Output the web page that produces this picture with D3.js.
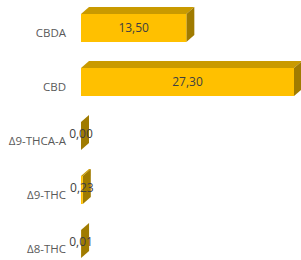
<!DOCTYPE html>
<html>
<head>
<meta charset="utf-8">
<script src="https://cdn.jsdelivr.net/npm/d3@7"></script>
<style>
  body { margin: 0; background: #fff; }
  text { font-family: "Open Sans", sans-serif; }
</style>
</head>
<body>
<svg id="chart"></svg>
<script>
// categories top to bottom
const categories = ['CBDA', 'CBD', 'Δ9-THCA-A', 'Δ9-THC', 'Δ8-THC'];
const values = [13.50, 27.30, 0.00, 0.23, 0.01];
const valueLabels = ['13,50', '27,30', '0,00', '0,23', '0,01'];

const W = 301, H = 260;
const svg = d3.select('#chart').attr('width', W).attr('height', H);

const y = d3.scaleBand().domain(categories).range([6, 276]).padding(0);
const x = d3.scaleLinear().domain([0, 27.3]).range([81, 294]);

const depthX = 8, depthY = -7;   // 3d offset
const barH = 28;

const g = svg.append('g');

categories.forEach((c, i) => {
  const cy = y(c) + y.bandwidth() / 2;
  const top = cy - 19;
  const x0 = x(0), x1 = x(values[i]);

  // top face
  g.append('path')
    .attr('d', `M${x0},${top} L${x0 + depthX},${top + depthY} L${x1 + depthX},${top + depthY} L${x1},${top} Z`)
    .attr('fill', '#c99a00');
  // right side face
  g.append('path')
    .attr('d', `M${x1},${top} L${x1 + depthX},${top + depthY} L${x1 + depthX},${top + barH + depthY} L${x1},${top + barH} Z`)
    .attr('fill', '#a07b00');
  // front face
  g.append('rect')
    .attr('x', x0).attr('y', top)
    .attr('width', x1 - x0).attr('height', barH)
    .attr('fill', '#ffc000');

  // value label
  g.append('text')
    .attr('x', (x0 + x1) / 2)
    .attr('y', top + barH / 2 - (values[i] < 1 ? 2 : 0))
    .attr('dy', '0.35em')
    .attr('text-anchor', 'middle')
    .attr('font-size', 12)
    .attr('fill', '#404040')
    .text(valueLabels[i]);

  // category label
  g.append('text')
    .attr('x', 66)
    .attr('y', cy)
    .attr('dy', '0.35em')
    .attr('text-anchor', 'end')
    .attr('font-size', 11.5)
    .attr('fill', '#595959')
    .text(c);
});
</script>
</body>
</html>
